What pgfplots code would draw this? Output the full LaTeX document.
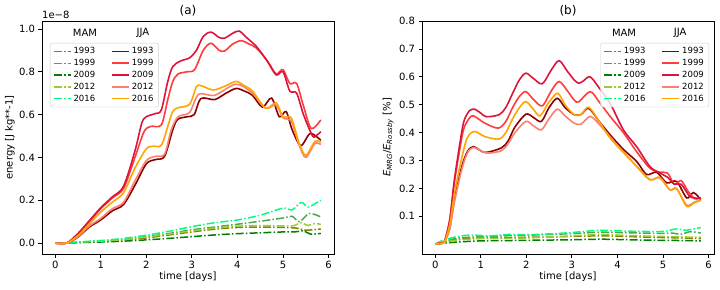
\documentclass[border=0pt]{standalone}
\usepackage{pgfplots}
\pgfplotsset{compat=1.18}
\usepackage{fontspec}
\setmainfont{DejaVu Sans}
\definecolor{cOlive}{HTML}{808000}
\definecolor{cG99}{HTML}{4DA64D}
\definecolor{cGreen}{HTML}{008000}
\definecolor{cYG}{HTML}{9ACD32}
\definecolor{cSpring}{HTML}{00FF7F}
\definecolor{cDarkred}{HTML}{8B0000}
\definecolor{cRed}{HTML}{FF3B3B}
\definecolor{cCrimson}{HTML}{DC143C}
\definecolor{cSalmon}{HTML}{FA8072}
\definecolor{cOrange}{HTML}{FFA500}
\pgfplotsset{
  mam/.style={line width=1.5bp, dash pattern=on 8bp off 2.2bp on 1.5bp off 2.2bp},
  jja/.style={line width=1.6bp},
  panel/.style={
    scale only axis, width=292bp, height=233bp,
    xmin=-0.29, xmax=6.12, xtick={0,...,6},
    tick align=outside, tick pos=left, major tick length=3.5bp,
    every tick/.style={black, line width=0.8bp},
    axis line style={line width=0.8bp},
    ticklabel style={font=\fontsize{10bp}{12bp}\selectfont},
    /pgf/number format/assume math mode=true,
    label style={font=\fontsize{10bp}{12bp}\selectfont},
    xlabel={time [days]},
    xlabel style={at={(axis description cs:0.5,-0.099)}, anchor=center},
    clip mode=individual,
    legend columns=2,
    legend cell align=left,
    legend style={font=\fontsize{8.5bp}{10bp}\selectfont, draw=black!20, rounded corners=2bp,
      fill=white, fill opacity=0.8, text opacity=1, inner xsep=3bp, inner ysep=2.5bp,
      /tikz/column 2/.style={column sep=14bp}},
  },
}
\begin{document}
\begin{tikzpicture}[x=1bp,y=1bp]
\path[use as bounding box] (0,0) rectangle (720bp,290bp);
% ---------------- panel (a)
\begin{axis}[panel, at={(42bp,36bp)}, anchor=south west,
  ymin=-0.051, ymax=1.037, ytick={0,0.2,0.4,0.6,0.8,1.0},
  yticklabel style={/pgf/number format/.cd, fixed, fixed zerofill, precision=1},
  ylabel={energy [J kg**-1]},
  ylabel style={at={(axis description cs:-0.11,0.5)}, anchor=center},
  legend style={at={(0.027,0.906)}, anchor=north west}]
% MAM
\addplot[mam, cOlive, smooth, forget plot] coordinates {(0,0)(0.25,0)(0.5,0.003)(1,0.008)(1.5,0.014)(2,0.024)(2.5,0.038)(3,0.052)(3.5,0.065)(4,0.073)(4.5,0.075)(5,0.073)(5.3,0.07)(5.5,0.06)(5.83,0.066)};
\addplot[mam, cG99, smooth, forget plot] coordinates {(0,0)(0.25,0)(0.5,0.004)(1,0.009)(1.5,0.017)(2,0.03)(2.5,0.045)(3,0.062)(3.5,0.075)(4,0.088)(4.5,0.102)(5,0.117)(5.2,0.125)(5.36,0.1)(5.58,0.138)(5.83,0.122)};
\addplot[mam, cGreen, smooth, forget plot] coordinates {(0,0)(0.25,0)(0.5,0.002)(1,0.005)(1.5,0.009)(2,0.015)(2.5,0.022)(3,0.03)(3.5,0.038)(4,0.044)(4.5,0.048)(5,0.052)(5.3,0.053)(5.45,0.058)(5.6,0.042)(5.83,0.045)};
\addplot[mam, cYG, smooth, forget plot] coordinates {(0,0)(0.25,0)(0.5,0.004)(1,0.009)(1.5,0.016)(2,0.028)(2.5,0.042)(3,0.057)(3.5,0.07)(4,0.079)(4.5,0.082)(5,0.08)(5.25,0.082)(5.4,0.095)(5.55,0.082)(5.7,0.092)(5.83,0.087)};
\addplot[mam, cSpring, smooth, forget plot] coordinates {(0,0)(0.25,0)(0.5,0.005)(1,0.012)(1.5,0.022)(2,0.037)(2.5,0.055)(3,0.077)(3.5,0.095)(4,0.108)(4.5,0.13)(5,0.163)(5.2,0.155)(5.4,0.19)(5.55,0.168)(5.75,0.19)(5.83,0.2)};
% JJA
\addplot[jja, cDarkred, smooth, forget plot] coordinates {(0,0)(0.25,0)(0.5,0.028)(0.75,0.075)(1.0,0.108)(1.25,0.15)(1.5,0.18)(1.75,0.27)(2.0,0.37)(2.2,0.39)(2.4,0.405)(2.58,0.529)(2.69,0.578)(2.9,0.59)(3.05,0.60)(3.2,0.675)(3.5,0.67)(3.75,0.70)(3.97,0.722)(4.15,0.71)(4.33,0.69)(4.55,0.635)(4.75,0.677)(4.92,0.59)(5.07,0.614)(5.2,0.53)(5.39,0.455)(5.6,0.512)(5.83,0.48)};
\addplot[jja, cRed, smooth, forget plot] coordinates {(0,0)(0.25,0)(0.5,0.04)(0.75,0.10)(1.0,0.16)(1.25,0.21)(1.5,0.255)(1.75,0.40)(1.95,0.52)(2.1,0.545)(2.33,0.552)(2.47,0.669)(2.58,0.754)(2.7,0.79)(2.9,0.80)(3.06,0.81)(3.25,0.90)(3.42,0.933)(3.6,0.9)(3.72,0.897)(3.9,0.93)(4.08,0.945)(4.25,0.93)(4.42,0.91)(4.66,0.85)(4.85,0.79)(5.0,0.81)(5.15,0.745)(5.3,0.745)(5.45,0.64)(5.62,0.535)(5.83,0.575)};
\addplot[jja, cCrimson, smooth, forget plot] coordinates {(0,0)(0.25,0)(0.5,0.045)(0.75,0.105)(1.0,0.165)(1.25,0.215)(1.5,0.265)(1.75,0.43)(1.9,0.56)(2.0,0.59)(2.2,0.605)(2.33,0.622)(2.47,0.754)(2.58,0.824)(2.75,0.85)(2.95,0.865)(3.1,0.90)(3.25,0.965)(3.42,0.985)(3.6,0.96)(3.72,0.957)(3.9,0.98)(4.04,0.99)(4.2,0.96)(4.42,0.917)(4.66,0.848)(4.85,0.785)(5.0,0.80)(5.15,0.71)(5.3,0.70)(5.45,0.60)(5.65,0.50)(5.75,0.505)(5.83,0.52)};
\addplot[jja, cSalmon, smooth, forget plot] coordinates {(0,0)(0.25,0)(0.5,0.03)(0.75,0.08)(1.0,0.115)(1.25,0.16)(1.5,0.19)(1.75,0.29)(2.0,0.385)(2.2,0.405)(2.4,0.415)(2.55,0.53)(2.7,0.59)(2.95,0.61)(3.15,0.695)(3.5,0.69)(3.97,0.742)(4.33,0.70)(4.62,0.63)(4.85,0.645)(5.0,0.585)(5.18,0.57)(5.35,0.46)(5.5,0.40)(5.7,0.465)(5.83,0.46)};
\addplot[jja, cOrange, smooth, forget plot] coordinates {(0,0)(0.25,0)(0.5,0.035)(0.75,0.09)(1.0,0.145)(1.25,0.19)(1.5,0.235)(1.75,0.35)(2.0,0.44)(2.15,0.452)(2.33,0.457)(2.47,0.544)(2.58,0.614)(2.7,0.632)(2.95,0.648)(3.1,0.73)(3.2,0.735)(3.47,0.715)(3.75,0.735)(3.97,0.755)(4.15,0.735)(4.33,0.71)(4.62,0.63)(4.85,0.655)(5.0,0.59)(5.18,0.585)(5.35,0.47)(5.5,0.41)(5.7,0.475)(5.83,0.47)};
% legend
\addlegendimage{mam, cOlive}\addlegendentry{1993}
\addlegendimage{jja, cDarkred}\addlegendentry{1993}
\addlegendimage{mam, cG99}\addlegendentry{1999}
\addlegendimage{jja, cRed}\addlegendentry{1999}
\addlegendimage{mam, cGreen}\addlegendentry{2009}
\addlegendimage{jja, cCrimson}\addlegendentry{2009}
\addlegendimage{mam, cYG}\addlegendentry{2012}
\addlegendimage{jja, cSalmon}\addlegendentry{2012}
\addlegendimage{mam, cSpring}\addlegendentry{2016}
\addlegendimage{jja, cOrange}\addlegendentry{2016}
\node[font=\fontsize{10bp}{12bp}\selectfont] at (axis description cs:0.147,0.948) {MAM};
\node[font=\fontsize{10bp}{12bp}\selectfont] at (axis description cs:0.346,0.948) {JJA};
\node[font=\fontsize{10bp}{12bp}\selectfont, anchor=west, inner sep=0pt] at (axis description cs:0,1.026) {1e−8};
\node[font=\fontsize{12bp}{14bp}\selectfont, anchor=center] at (axis description cs:0.5,1.045) {(a)};
\end{axis}
% ---------------- panel (b)
\begin{axis}[panel, at={(422bp,36bp)}, anchor=south west,
  ymin=-0.035, ymax=0.8, ytick={0.1,0.2,0.3,0.4,0.5,0.6,0.7,0.8},
  yticklabel style={/pgf/number format/.cd, fixed, fixed zerofill, precision=1},
  ylabel={\textit{E}\textsubscript{\textit{MRG}}/\textit{E}\textsubscript{\textit{Rossby}} [\%]},
  ylabel style={at={(axis description cs:-0.116,0.5)}, anchor=center},
  legend style={at={(0.983,0.906)}, anchor=north east}]
% MAM
\addplot[mam, cOlive, smooth, forget plot] coordinates {(0,0)(0.2,0.008)(0.5,0.018)(1,0.022)(1.5,0.023)(2,0.025)(2.5,0.026)(3,0.028)(3.6,0.03)(4,0.029)(4.5,0.026)(5,0.024)(5.5,0.022)(5.83,0.02)};
\addplot[mam, cG99, smooth, forget plot] coordinates {(0,0)(0.2,0.01)(0.5,0.022)(1,0.027)(1.5,0.03)(2,0.032)(2.5,0.035)(3,0.038)(3.6,0.043)(4,0.042)(4.5,0.04)(5,0.039)(5.2,0.04)(5.4,0.036)(5.6,0.045)(5.83,0.04)};
\addplot[mam, cGreen, smooth, forget plot] coordinates {(0,0)(0.2,0.004)(0.5,0.008)(1,0.012)(1.5,0.013)(2,0.014)(2.5,0.015)(3,0.016)(3.6,0.018)(4,0.017)(4.5,0.015)(5,0.014)(5.5,0.013)(5.83,0.012)};
\addplot[mam, cYG, smooth, forget plot] coordinates {(0,0)(0.2,0.007)(0.5,0.015)(1,0.02)(1.5,0.021)(2,0.022)(2.5,0.026)(3,0.03)(3.6,0.035)(4,0.033)(4.5,0.03)(5,0.028)(5.5,0.026)(5.83,0.025)};
\addplot[mam, cSpring, smooth, forget plot] coordinates {(0,0)(0.2,0.016)(0.5,0.028)(0.8,0.033)(1.2,0.03)(1.6,0.035)(2,0.034)(2.5,0.037)(3,0.042)(3.6,0.05)(4,0.048)(4.5,0.046)(5,0.046)(5.3,0.055)(5.5,0.05)(5.83,0.06)};
% JJA
\addplot[jja, cDarkred, smooth, forget plot] coordinates {(0,0)(0.1,0.003)(0.2,0.008)(0.32,0.06)(0.42,0.16)(0.57,0.27)(0.7,0.33)(0.84,0.35)(1.09,0.329)(1.45,0.345)(1.6,0.37)(1.75,0.42)(1.99,0.466)(2.15,0.455)(2.33,0.44)(2.5,0.49)(2.68,0.523)(2.85,0.49)(3.05,0.464)(3.2,0.465)(3.37,0.487)(3.6,0.44)(3.84,0.392)(4.13,0.34)(4.42,0.297)(4.64,0.25)(4.86,0.258)(5.08,0.22)(5.3,0.225)(5.52,0.166)(5.67,0.185)(5.83,0.16)};
\addplot[jja, cRed, smooth, forget plot] coordinates {(0,0)(0.1,0.005)(0.2,0.01)(0.32,0.085)(0.42,0.22)(0.57,0.37)(0.64,0.42)(0.75,0.452)(0.84,0.46)(1.09,0.434)(1.38,0.416)(1.55,0.44)(1.7,0.49)(1.85,0.53)(1.99,0.547)(2.15,0.52)(2.35,0.496)(2.55,0.55)(2.72,0.583)(2.9,0.55)(3.05,0.517)(3.15,0.51)(3.4,0.547)(3.6,0.51)(3.84,0.458)(4.13,0.40)(4.42,0.332)(4.71,0.273)(4.93,0.258)(5.1,0.255)(5.25,0.215)(5.4,0.228)(5.55,0.19)(5.7,0.163)(5.83,0.167)};
\addplot[jja, cCrimson, smooth, forget plot] coordinates {(0,0)(0.1,0.005)(0.2,0.01)(0.32,0.09)(0.42,0.23)(0.57,0.39)(0.64,0.446)(0.75,0.478)(0.86,0.484)(1.0,0.47)(1.12,0.457)(1.4,0.464)(1.55,0.49)(1.7,0.541)(1.85,0.59)(1.99,0.613)(2.15,0.595)(2.35,0.575)(2.55,0.625)(2.72,0.658)(2.9,0.62)(3.05,0.589)(3.15,0.577)(3.25,0.585)(3.4,0.60)(3.6,0.56)(3.84,0.505)(4.13,0.41)(4.42,0.35)(4.71,0.279)(4.93,0.255)(5.1,0.24)(5.25,0.215)(5.4,0.215)(5.6,0.17)(5.83,0.165)};
\addplot[jja, cSalmon, smooth, forget plot] coordinates {(0,0)(0.1,0.003)(0.2,0.008)(0.32,0.055)(0.42,0.15)(0.57,0.26)(0.7,0.325)(0.84,0.347)(1.12,0.327)(1.45,0.335)(1.6,0.36)(1.75,0.40)(1.99,0.44)(2.15,0.425)(2.33,0.41)(2.5,0.45)(2.68,0.484)(2.85,0.46)(3.05,0.434)(3.2,0.43)(3.4,0.458)(3.6,0.43)(3.84,0.385)(4.13,0.33)(4.42,0.28)(4.71,0.232)(4.93,0.238)(5.15,0.195)(5.3,0.198)(5.52,0.14)(5.7,0.152)(5.83,0.158)};
\addplot[jja, cOrange, smooth, forget plot] coordinates {(0,0)(0.1,0.003)(0.2,0.008)(0.32,0.07)(0.42,0.18)(0.57,0.30)(0.7,0.38)(0.86,0.404)(1.1,0.385)(1.4,0.377)(1.55,0.40)(1.7,0.45)(1.85,0.49)(1.99,0.511)(2.15,0.485)(2.3,0.46)(2.5,0.51)(2.69,0.541)(2.85,0.5)(3.05,0.464)(3.2,0.465)(3.37,0.491)(3.6,0.44)(3.84,0.38)(4.13,0.33)(4.42,0.279)(4.71,0.231)(4.93,0.24)(5.15,0.195)(5.3,0.2)(5.52,0.136)(5.7,0.15)(5.83,0.157)};
% legend
\addlegendimage{mam, cOlive}\addlegendentry{1993}
\addlegendimage{jja, cDarkred}\addlegendentry{1993}
\addlegendimage{mam, cG99}\addlegendentry{1999}
\addlegendimage{jja, cRed}\addlegendentry{1999}
\addlegendimage{mam, cGreen}\addlegendentry{2009}
\addlegendimage{jja, cCrimson}\addlegendentry{2009}
\addlegendimage{mam, cYG}\addlegendentry{2012}
\addlegendimage{jja, cSalmon}\addlegendentry{2012}
\addlegendimage{mam, cSpring}\addlegendentry{2016}
\addlegendimage{jja, cOrange}\addlegendentry{2016}
\node[font=\fontsize{10bp}{12bp}\selectfont] at (axis description cs:0.692,0.948) {MAM};
\node[font=\fontsize{10bp}{12bp}\selectfont] at (axis description cs:0.884,0.948) {JJA};
\node[font=\fontsize{12bp}{14bp}\selectfont, anchor=center] at (axis description cs:0.5,1.045) {(b)};
\end{axis}
\end{tikzpicture}
\end{document}
